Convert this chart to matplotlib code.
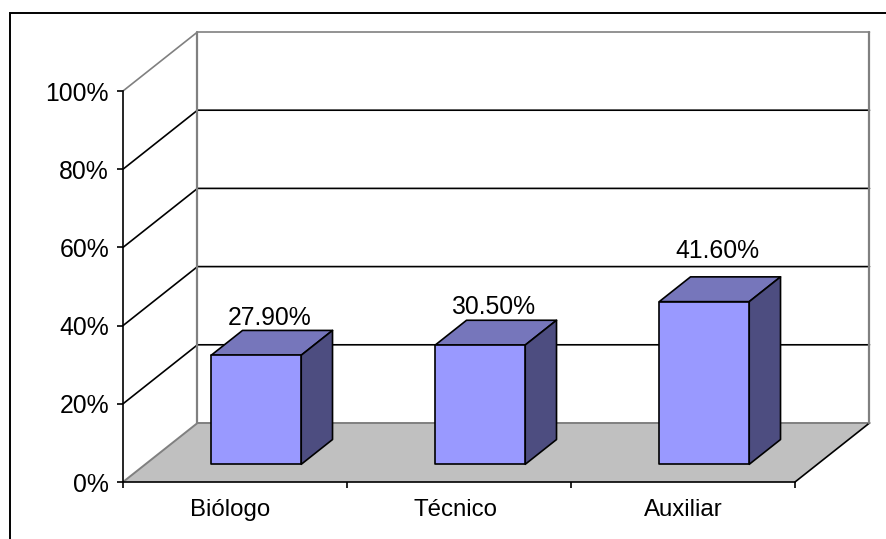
import matplotlib
matplotlib.use('Agg')
import matplotlib.pyplot as plt
from matplotlib.patches import Polygon, Rectangle

plt.rcParams['font.family'] = ['Liberation Sans', 'DejaVu Sans']

categories = ['Biólogo', 'Técnico', 'Auxiliar']
values = [27.9, 30.5, 41.6]
value_labels = ['27.90%', '30.50%', '41.60%']
y_ticks = [0, 20, 40, 60, 80, 100]

W, H = 887, 539
# axes is the front plane of the fake 3d box
LEFT, RIGHT, TOP, BOTTOM = 123, 795, 91, 482
# shift of the back wall, in data units (74 px across, 59 px up)
DX = 74.5 / 224
DY = 59 / 3.91
BAR_W = 90 / 224
D_FRONT, D_BACK = 0.30, 0.72
FS = 17.8


def proj(x, y, d=0.0):
    return x + DX * d, y + DY * d


def poly(ax, pts, **kw):
    p = Polygon([proj(*q) for q in pts], closed=True, clip_on=False, **kw)
    ax.add_patch(p)


def line(ax, pts, **kw):
    xs, ys = zip(*[proj(*q) for q in pts])
    ax.plot(xs, ys, clip_on=False, solid_capstyle='round', **kw)


fig = plt.figure(figsize=(W / 100, H / 100), dpi=100)
ax = fig.add_axes([LEFT / W, 1 - BOTTOM / H, (RIGHT - LEFT) / W, (BOTTOM - TOP) / H])
ax.set_xlim(0, 3)
ax.set_ylim(0, 100)
ax.patch.set_visible(False)

for s in ['top', 'right']:
    ax.spines[s].set_visible(False)
for s in ['left', 'bottom']:
    ax.spines[s].set_linewidth(1.2)
    ax.spines[s].set_zorder(5)

# outer frame, only left and top edges fall inside the image
fig.add_artist(Rectangle((10 / W, -0.02), 1.02 - 10 / W, 1.02 - 13 / H, fill=False,
                         edgecolor='black', linewidth=1.4))

# floor
poly(ax, [(0, 0), (3, 0), (3, 0, 1), (0, 0, 1)], facecolor='#C0C0C0', edgecolor='none', zorder=1)
line(ax, [(0, 0), (0, 0, 1), (3, 0, 1)], color='#808080', lw=1.4, zorder=2)
line(ax, [(3, 0), (3, 0, 1)], color='black', lw=1.2, zorder=2)

# side wall and back wall grid
for t in y_ticks[1:]:
    c = '#808080' if t == 100 else 'black'
    line(ax, [(0, t), (0, t, 1), (3, t, 1)], color=c, lw=1.2, zorder=2)
line(ax, [(0, 0, 1), (0, 100, 1)], color='#808080', lw=1.6, zorder=2)
line(ax, [(3, 0, 1), (3, 100, 1)], color='#808080', lw=1.6, zorder=2)

# bars
label_offsets = [5, 6, 19]
for i, v in enumerate(values):
    x0 = i + 0.5 - BAR_W / 2 - 0.005
    x1 = x0 + BAR_W
    style = dict(edgecolor='black', linewidth=1.2, joinstyle='round', zorder=3)
    poly(ax, [(x0, v, D_FRONT), (x1, v, D_FRONT), (x1, v, D_BACK), (x0, v, D_BACK)],
         facecolor='#7676BB', **style)
    poly(ax, [(x1, 0, D_FRONT), (x1, 0, D_BACK), (x1, v, D_BACK), (x1, v, D_FRONT)],
         facecolor='#4D4D80', **style)
    poly(ax, [(x0, 0, D_FRONT), (x1, 0, D_FRONT), (x1, v, D_FRONT), (x0, v, D_FRONT)],
         facecolor='#9999FF', **style)
    tx, ty = proj(i + 0.5, v, D_BACK)
    ax.annotate(value_labels[i], (tx, ty), xytext=(-14, label_offsets[i] * 0.72),
                textcoords='offset points', ha='center', va='baseline',
                fontsize=FS, color='black', zorder=6, annotation_clip=False)

ax.set_yticks(y_ticks)
ax.set_yticklabels([f'{t}%' for t in y_ticks], fontsize=FS)
ax.tick_params(axis='y', length=4, width=1.2, pad=6)
ax.set_xticks(range(4))
ax.set_xticklabels([])
ax.set_xticks([0.48, 1.485, 2.5], minor=True)
ax.set_xticklabels(categories, minor=True, fontsize=17.3)
ax.tick_params(axis='x', which='major', length=4, width=1.2)
ax.tick_params(axis='x', which='minor', length=0, pad=12)

fig.savefig('out.png', dpi=100)
